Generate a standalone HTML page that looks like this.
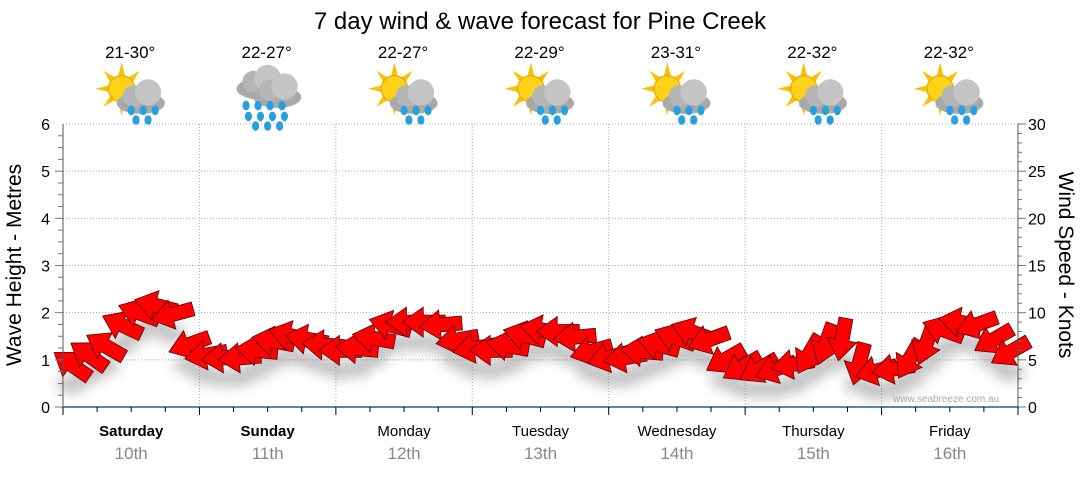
<!DOCTYPE html>
<html><head><meta charset="utf-8"><style>
body{margin:0;background:#fff;font-family:"Liberation Sans",Verdana,sans-serif}
svg text{font-family:"Liberation Sans",sans-serif}
</style></head><body>
<svg id="c" width="1080" height="475" viewBox="0 0 1080 475" xmlns="http://www.w3.org/2000/svg">
<defs>
<filter id="sh" x="-50%" y="-50%" width="200%" height="250%"><feGaussianBlur stdDeviation="6"/></filter>
<g id="sun"><g fill="#f7c200"><polygon points="0,-22 3,-10 -3,-10"/><polygon points="0,22 3,10 -3,10"/><polygon points="-22,0 -10,3 -10,-3"/><polygon points="22,0 10,3 10,-3"/><polygon points="-15,-15 -5,-9 -9,-5"/><polygon points="15,-15 5,-9 9,-5"/><polygon points="-15,15 -5,9 -9,5"/><polygon points="15,15 5,9 9,5"/></g><circle r="11" fill="#ffd21a" stroke="#e8a800"/></g>
<g id="cloud"><ellipse cx="0" cy="6" rx="20" ry="9" fill="#a9a9a9"/><circle cx="-6" cy="0" r="9" fill="#b5b5b5"/><circle cx="6" cy="-3" r="11" fill="#c4c4c4"/></g>
<g id="drop"><ellipse rx="3" ry="4" fill="#2a9fe0"/></g>
</defs>
<text x="540" y="29" text-anchor="middle" font-size="24" fill="#000">7 day wind &amp; wave forecast for Pine Creek</text>
<g id="grid"></g>
<g id="icons"></g>
<g id="marks"></g>
<g id="axes"></g>
<text x="893" y="402" font-size="10" fill="#aaa">www.seabreeze.com.au</text>
<text transform="translate(21,265) rotate(-90)" text-anchor="middle" font-size="21">Wave Height - Metres</text>
<text transform="translate(1059,265) rotate(90)" text-anchor="middle" font-size="21">Wind Speed - Knots</text>
</svg>
<script>
const days=["Saturday","Sunday","Monday","Tuesday","Wednesday","Thursday","Friday"];
const dates=["10th","11th","12th","13th","14th","15th","16th"];
const temps=["21-30°","22-27°","22-27°","22-29°","23-31°","22-32°","22-32°"];
const icons=["sunrain","rain","sunrain","sunrain","sunrain","sunrain","sunrain"];
const waveTicks=[0,1,2,3,4,5,6];
const windTicks=[0,5,10,15,20,25,30];
const windSpeed=[4.5,5.5,6.5,8.7,10,10.8,9.8,6.6,5.5, 5.2,5.2,6,7,7.6,7.2,6.6,6, 6.2,7.3,8.7,9,9,8.7,7.1,6.2, 6,6.5,7.6,8.2,8,7.4,5.9,5.2, 5.2,5.9,6.6,7.4,8,7.1,5,4.2, 4,4,4.5,5.5,6.6,7.1,4.5,3.8, 4,5,6.6,8.2,9,8.7,7.1,5.8];
const windDir=[215,215,210,205,200,195,165,160,170, 175,175,185,190,195,190,185,180, 185,190,195,180,180,175,170,170, 180,190,195,190,180,175,165,165, 170,185,195,200,200,160,150,150, 150,160,170,120,110,100,105,165, 170,120,110,200,190,160,150,150];
const X0=63,X1=1018,YB=407,YT=124,N=7;
const xHour=h=>X0+(X1-X0)*h/(N*24);
const yWave=m=>YB-(YB-YT)*m/6;
const yWind=k=>YB-(YB-YT)*k/30;
const NS="http://www.w3.org/2000/svg";
function mk(p,t,a){const e=document.createElementNS(NS,t);for(const k in a)e.setAttribute(k,a[k]);p.appendChild(e);return e;}
const grid=document.getElementById('grid'),axes=document.getElementById('axes'),marks=document.getElementById('marks'),ic=document.getElementById('icons');
waveTicks.forEach(m=>{if(m>0){const l=mk(grid,'line',{x1:X0,x2:X1,y1:yWave(m),y2:yWave(m),stroke:'#aaa','stroke-dasharray':'1,2'});}
 const t=mk(axes,'text',{x:50,y:yWave(m)+6,'text-anchor':'end','font-size':16});t.textContent=m;});
for(let m=0;m<6;m+=0.25){mk(axes,'line',{x1:m%1==0?55:58,x2:63,y1:yWave(m),y2:yWave(m),stroke:'#777'});}
windTicks.forEach(k=>{const t=mk(axes,'text',{x:1028,y:yWind(k)+6,'font-size':16});t.textContent=k;});
for(let k=0;k<=30;k++){mk(axes,'line',{x1:1018,x2:k%5==0?1026:1022,y1:yWind(k),y2:yWind(k),stroke:'#777'});}
mk(axes,'line',{x1:X0,x2:X0,y1:YT,y2:YB,stroke:'#555'});
mk(axes,'line',{x1:X1,x2:X1,y1:YT,y2:YB,stroke:'#555'});
mk(axes,'line',{x1:X0,x2:X1,y1:YB,y2:YB,stroke:'#1f5f8b','stroke-width':1.5});
for(let h=0;h<=N*24;h+=6){mk(axes,'line',{x1:xHour(h),x2:xHour(h),y1:YB,y2:YB+(h%24==0?8:5),stroke:'#000'});}
days.forEach((d,i)=>{
 const cx=xHour(i*24+12);
 if(i>0){const l=mk(grid,'line',{x1:xHour(i*24),x2:xHour(i*24),y1:YT,y2:YB,stroke:'#aaa','stroke-dasharray':'1,2'});}
 const t=mk(axes,'text',{x:cx,y:436,'text-anchor':'middle','font-size':15,'font-weight':i<2?'bold':'normal'});t.textContent=d;
 const t2=mk(axes,'text',{x:cx,y:459,'text-anchor':'middle','font-size':17,fill:'#888'});t2.textContent=dates[i];
 const t3=mk(ic,'text',{x:cx-1,y:58,'text-anchor':'middle','font-size':17});t3.textContent=temps[i];
 const g=mk(ic,'g',{transform:`translate(${cx},96) scale(1.2)`});
 
 
 if(icons[i]=='rain'){mk(g,'use',{href:'#cloud',x:-6,y:-12});mk(g,'use',{href:'#cloud',x:8,y:-5});
  [[-18,8],[-8,8],[2,8],[12,8],[-16,17],[-6,17],[4,17],[14,17],[-10,25],[0,25],[10,25]].forEach(p=>mk(g,'use',{href:'#drop',x:p[0],y:p[1]}));}
 else{mk(g,'use',{href:'#sun',x:-8,y:-6});mk(g,'use',{href:'#cloud',x:8,y:0});
  [[0,12],[10,12],[20,12],[4,20],[14,20]].forEach(p=>mk(g,'use',{href:'#drop',x:p[0],y:p[1]}));}
});
const arrow="M-22,-7 L0,-7 L0,-15 L21,0 L0,15 L0,7 L-22,7 Z";
const step=N*24/windSpeed.length;
const shadowG=mk(marks,'g',{filter:'url(#sh)',opacity:0.35});
windSpeed.forEach((k,i)=>{const x=xHour(i*step+step/2),y=yWind(k);mk(shadowG,'ellipse',{cx:x,cy:y+20,rx:15,ry:9,fill:'#555'});});
windSpeed.forEach((k,i)=>{
 const x=xHour(i*step+step/2),y=yWind(k);
 const p=mk(marks,'path',{d:arrow,transform:`translate(${x},${y}) rotate(${windDir[i]})`,fill:'#ff0000',stroke:'#5a0000','stroke-width':0.8});
 
 
});
</script>
</body></html>
